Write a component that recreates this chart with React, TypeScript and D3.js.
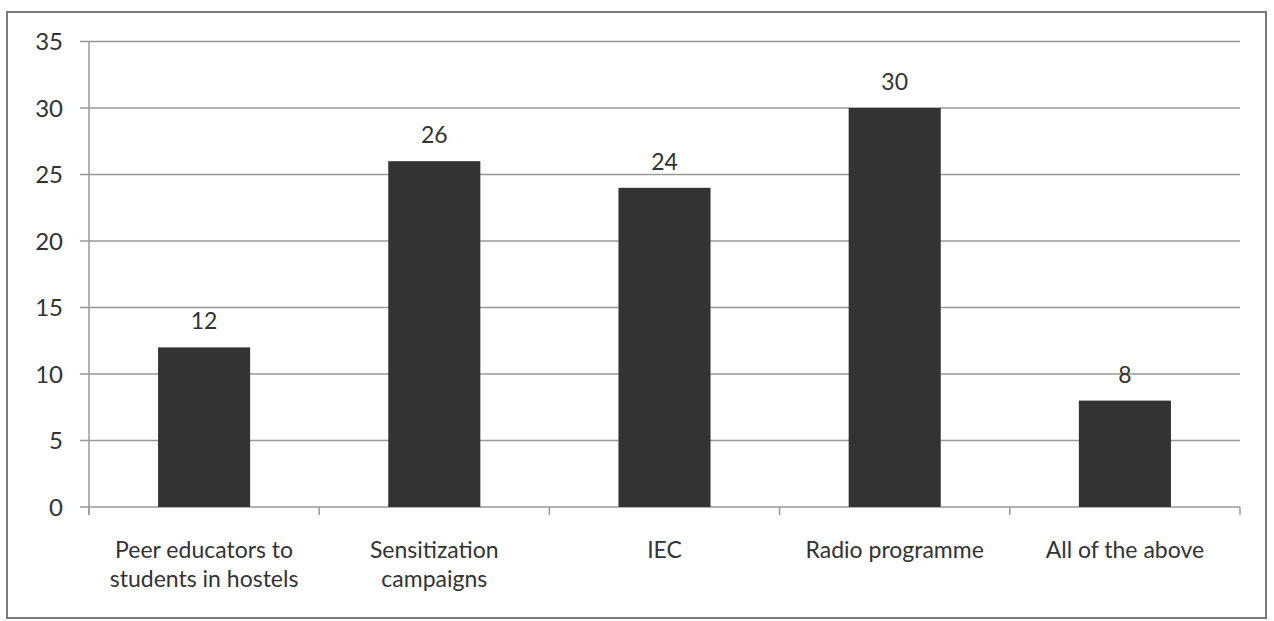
import React from "react";
import * as d3 from "d3";

const categories: string[][] = [
  ["Peer educators to", "students in hostels"],
  ["Sensitization", "campaigns"],
  ["IEC"],
  ["Radio programme"],
  ["All of the above"],
];
const values: number[] = [12, 26, 24, 30, 8];
const yTicks: number[] = [0, 5, 10, 15, 20, 25, 30, 35];

const W = 1274;
const H = 621;
const left = 89;
const right = 1240;
const top = 41.5;
const bottom = 507;
const font = "Lato, 'Open Sans', sans-serif";
const textColor = "#333333";

export default function App() {
  const x = d3
    .scaleBand<number>()
    .domain(values.map((_, i) => i))
    .range([left, right])
    .paddingInner(0.6)
    .paddingOuter(0.3);
  const band = (right - left) / values.length;
  const y = d3.scaleLinear().domain([0, 35]).range([bottom, top]);

  return (
    <svg
      width={W}
      height={H}
      style={{ position: "absolute", left: 0, top: 0, background: "#fff" }}
    >
      <rect x={0} y={0} width={W} height={H} fill="#fff" />
      <rect
        x={7}
        y={12}
        width={1259}
        height={606}
        fill="none"
        stroke="#7a7a7a"
        strokeWidth={2}
      />
      {yTicks.map((t) => (
        <g key={t}>
          <line
            x1={left - 9}
            x2={right}
            y1={y(t)}
            y2={y(t)}
            stroke="#999999"
            strokeWidth={1.5}
          />
          <text
            x={left - 26}
            y={y(t)}
            dy="0.36em"
            textAnchor="end"
            fontFamily={font}
            fontSize={24}
            fill={textColor}
          >
            {t}
          </text>
        </g>
      ))}
      <line x1={left} x2={left} y1={top} y2={bottom + 8} stroke="#999999" strokeWidth={1.5} />
      {d3.range(values.length + 1).map((i) => (
        <line
          key={i}
          x1={left + i * band}
          x2={left + i * band}
          y1={bottom}
          y2={bottom + 8}
          stroke="#999999"
          strokeWidth={1.5}
        />
      ))}
      {values.map((v, i) => (
        <g key={i}>
          <rect
            x={x(i)!}
            y={y(v)}
            width={x.bandwidth()}
            height={y(0) - y(v)}
            fill="#333333"
          />
          <text
            x={x(i)! + x.bandwidth() / 2}
            y={y(v) - 18}
            textAnchor="middle"
            fontFamily={font}
            fontSize={23}
            fill={textColor}
          >
            {v}
          </text>
          <text
            x={left + (i + 0.5) * band}
            y={558}
            textAnchor="middle"
            fontFamily={font}
            fontSize={23}
            fill={textColor}
          >
            {categories[i].map((line, j) => (
              <tspan key={j} x={left + (i + 0.5) * band} dy={j === 0 ? 0 : 29}>
                {line}
              </tspan>
            ))}
          </text>
        </g>
      ))}
    </svg>
  );
}
